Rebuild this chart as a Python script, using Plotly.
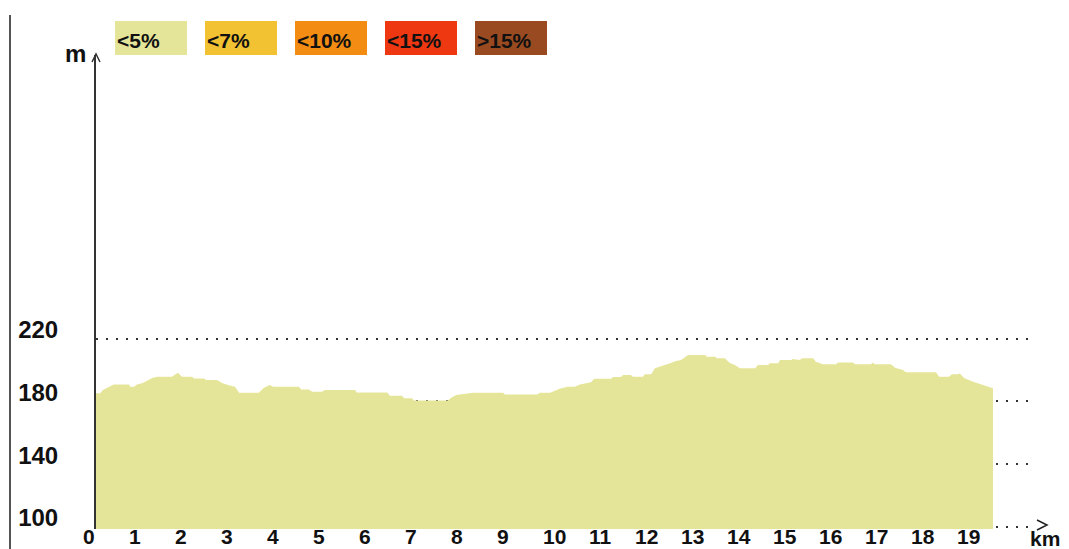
import plotly.graph_objects as go

# Elevation profile (km, metres)
km = [0.00, 0.09, 0.15, 0.24, 0.39, 0.72, 0.74, 0.83, 0.89, 1.02, 1.15, 1.22, 1.33, 1.65,
      1.78, 1.87, 2.09, 2.13, 2.35, 2.39, 2.63, 2.74, 2.87, 3.02, 3.11, 3.54, 3.65, 3.78,
      3.85, 4.41, 4.46, 4.63, 4.70, 4.91, 4.98, 5.63, 5.67, 6.33, 6.39, 6.65, 6.70, 6.87,
      6.91, 7.65, 7.72, 7.83, 7.91, 8.20, 8.85, 8.89, 9.59, 9.65, 9.87, 10.00, 10.11, 10.26,
      10.41, 10.52, 10.76, 10.83, 11.20, 11.24, 11.41, 11.46, 11.63, 11.67, 11.89, 11.93,
      12.07, 12.15, 12.33, 12.48, 12.61, 12.72, 12.87, 13.24, 13.28, 13.46, 13.50, 13.67,
      13.78, 13.89, 14.00, 14.33, 14.39, 14.61, 14.65, 14.83, 14.87, 15.11, 15.15, 15.30,
      15.35, 15.59, 15.65, 15.80, 16.09, 16.13, 16.46, 16.50, 16.85, 16.89, 16.93, 17.28,
      17.37, 17.54, 17.61, 18.26, 18.33, 18.54, 18.61, 18.74, 18.78, 18.87, 19.07, 19.22,
      19.41, 19.50]
elev = [185.2, 185.2, 187.3, 188.7, 190.9, 190.9, 189.4, 189.4, 190.8, 191.7, 193.7, 195.0, 195.8, 195.8,
        198.3, 195.8, 195.8, 194.7, 194.7, 193.7, 193.7, 191.7, 190.5, 189.4, 185.6, 185.6, 188.8, 190.5,
        189.4, 189.4, 187.7, 187.7, 186.2, 186.2, 187.3, 187.3, 185.8, 185.8, 183.6, 183.6, 182.0, 182.0,
        180.7, 180.7, 182.4, 184.1, 184.5, 185.6, 185.6, 184.5, 184.5, 185.6, 185.6, 187.0, 188.4, 189.4,
        189.4, 190.9, 192.2, 194.5, 194.5, 195.6, 195.6, 196.8, 196.8, 195.8, 195.8, 197.3,
        197.3, 201.1, 202.6, 204.3, 205.8, 206.4, 209.6, 209.6, 208.5, 208.5, 207.5, 207.5,
        204.5, 203.2, 201.1, 201.1, 203.2, 203.2, 204.3, 204.3, 206.4, 206.4, 207.0, 206.4,
        207.5, 207.5, 205.3, 203.7, 203.7, 204.9, 204.9, 203.7, 203.7, 204.8, 203.7, 203.7,
        201.5, 200.0, 198.6, 198.6, 195.8, 195.8, 197.3, 197.3, 197.8, 195.0, 192.6, 191.1,
        189.4, 188.4]

y_ticks = [100, 140, 180, 220]
x_ticks = list(range(0, 20))
legend_labels = ["<5%", "<7%", "<10%", "<15%", ">15%"]
legend_colors = ["#E5E599", "#F3C232", "#F28C12", "#EE3812", "#9A4A20"]

W, H = 1069, 549
ML, MR, MT, MB = 96, 33, 55, 20
PX_PER_KM = 46.0
PX_PER_M = 1.569
pw = W - ML - MR
ph = H - MT - MB
x_max = pw / PX_PER_KM
y_min = 100 - 2 / PX_PER_M
y_max = y_min + ph / PX_PER_M

FAMILY = "Liberation Sans, Arial, sans-serif"
YFONT = dict(family=FAMILY, size=24, color="#111111", weight="bold")
XFONT = dict(family=FAMILY, size=21, color="#111111", weight="bold")
LEG_FONT = dict(family=FAMILY, size=21, color="#111111", weight="bold")

fig = go.Figure()
fig.add_trace(go.Scatter(
    x=km, y=elev, mode="lines", line=dict(width=0, color=legend_colors[0]),
    fill="tozeroy", fillcolor=legend_colors[0], hoverinfo="skip", showlegend=False))

shapes = []
annotations = []

# left frame line
shapes.append(dict(type="line", xref="paper", yref="paper", xsizemode="pixel", ysizemode="pixel",
                   xanchor=0, yanchor=0, x0=-86, x1=-86, y0=-MB, y1=ph + MT - 15,
                   line=dict(color="#555555", width=2)))
# arrow heads
shapes.append(dict(type="path", xref="paper", yref="paper", xsizemode="pixel", ysizemode="pixel",
                   xanchor=0, yanchor=1, path="M -4,-7 L 0,1 L 4,-7",
                   line=dict(color="#333333", width=1.5)))
shapes.append(dict(type="path", xref="paper", yref="paper", xsizemode="pixel", ysizemode="pixel",
                   xanchor=1, yanchor=0, path="M 1,9 L 11,4 L 1,-1",
                   line=dict(color="#222222", width=1.5)))

# legend boxes
for i, (lab, col) in enumerate(zip(legend_labels, legend_colors)):
    shapes.append(dict(type="rect", xref="paper", yref="paper", xsizemode="pixel", ysizemode="pixel",
                       xanchor=0, yanchor=1, x0=19 + 90 * i, x1=91 + 90 * i, y0=0, y1=34,
                       line=dict(width=0), fillcolor=col))
    annotations.append(dict(text=lab, xref="paper", yref="paper", x=0, y=1, xshift=19 + 90 * i,
                            yshift=15, xanchor="left", yanchor="middle", showarrow=False, font=LEG_FONT))

annotations.append(dict(text="m", xref="paper", yref="paper", x=0, y=1, xshift=-21, yshift=2,
                        xanchor="center", yanchor="middle", showarrow=False, font=YFONT))
annotations.append(dict(text="km", xref="paper", yref="paper", x=1, y=0, xshift=9, yshift=4,
                        xanchor="center", yanchor="top", showarrow=False, font=XFONT))

fig.update_layout(
    width=W, height=H, margin=dict(l=ML, r=MR, t=MT, b=MB, pad=0, autoexpand=False),
    paper_bgcolor="white", plot_bgcolor="white", showlegend=False,
    shapes=shapes, annotations=annotations,
    xaxis=dict(range=[0, x_max], showgrid=False, zeroline=False, showline=False,
               tickvals=x_ticks, ticktext=[str(v) for v in x_ticks], ticks="",
               ticklabelposition="outside right", ticklabelshift=-13, ticklabelstandoff=-7,
               tickfont=XFONT, fixedrange=True, automargin=False),
    yaxis=dict(range=[y_min, y_max], tickvals=y_ticks, ticktext=[str(v) for v in y_ticks],
               showgrid=True, gridcolor="#333333", gridwidth=2, griddash="2px,8px",
               zeroline=False, showline=True, linecolor="#333333", linewidth=2, ticks="",
               ticklabelshift=-9, ticklabelstandoff=31, tickfont=YFONT, fixedrange=True,
               automargin=False),
)

fig.write_html("out.html", config={"displayModeBar": False},
               post_script="document.body.style.margin='0px';document.body.style.overflow='hidden';")
